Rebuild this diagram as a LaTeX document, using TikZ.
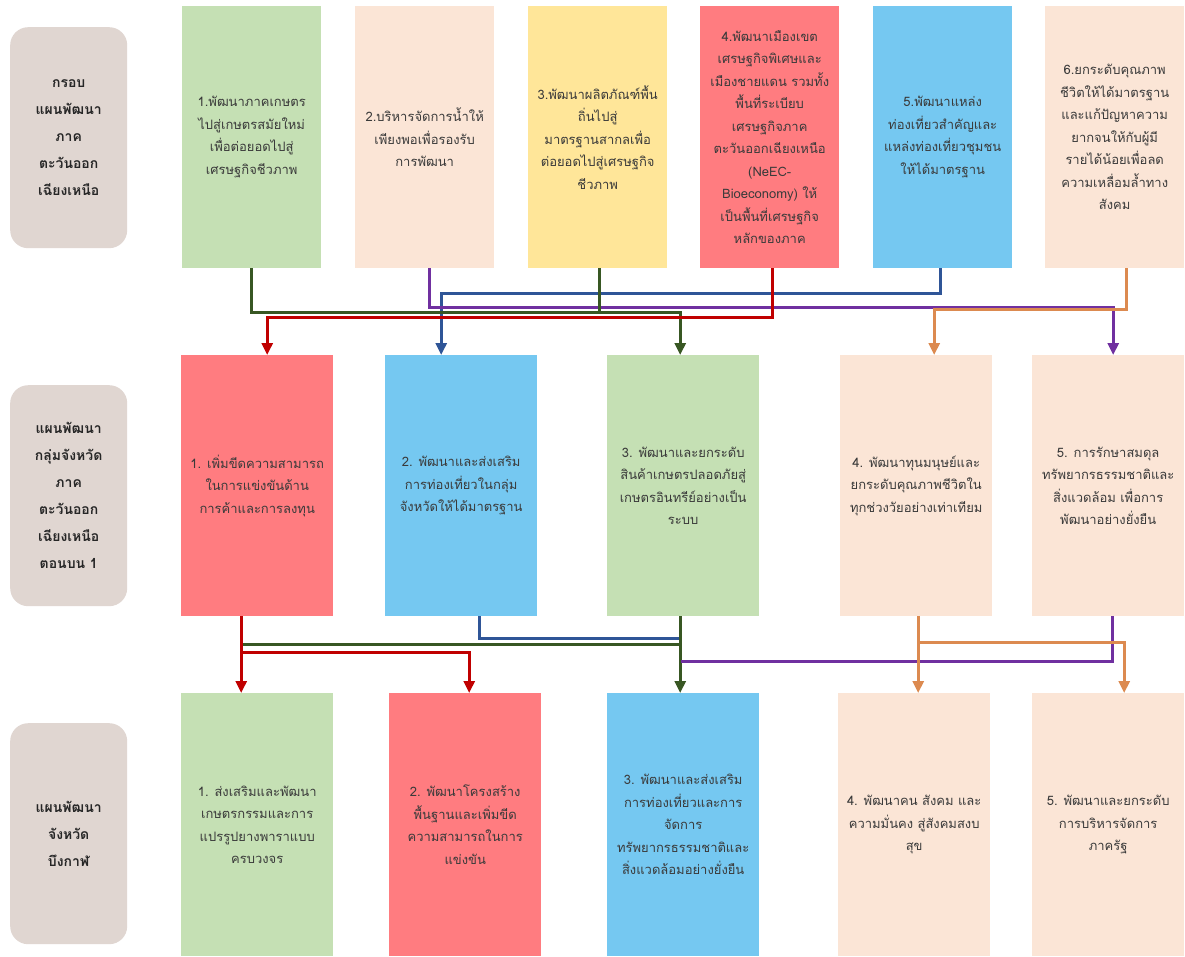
\documentclass[tikz,border=0pt]{standalone}
\usepackage{fontspec}
\newfontfamily\thaifont[Script=Thai]{Loma}
\usetikzlibrary{arrows.meta,calc}
\definecolor{cgreen}{HTML}{C5E0B4}
\definecolor{cpeach}{HTML}{FBE5D6}
\definecolor{cyellow}{HTML}{FFE699}
\definecolor{cred}{HTML}{FF7C80}
\definecolor{cblue}{HTML}{75C8F1}
\definecolor{clabel}{HTML}{E0D6D1}
\definecolor{txt}{HTML}{3A3A3A}
\definecolor{lgreen}{HTML}{385723}
\definecolor{lred}{HTML}{C00000}
\definecolor{lblue}{HTML}{2F5597}
\definecolor{lpurple}{HTML}{7030A0}
\definecolor{lorange}{HTML}{DC8A50}
\tikzset{
  box/.style={rectangle, anchor=north west, inner sep=0pt, align=center,
    font=\thaifont\fontsize{13}{22.5}\selectfont, text=txt},
  tb/.style={box, minimum width=139pt, minimum height=262pt},
  mb/.style={box, minimum width=152pt, minimum height=261pt},
  bb/.style={box, minimum width=152pt, minimum height=263pt},
  lab/.style={box, rounded corners=18pt, fill=clabel, minimum width=117pt,
    minimum height=221pt, font=\thaifont\bfseries\fontsize{14}{27}\selectfont, text=black!85},
  conn/.style={line width=2.8pt},
  arr/.style={conn, -{Triangle[length=12pt,width=11pt]}},
}
\begin{document}
\begin{tikzpicture}[x=1pt,y=-1pt]
\useasboundingbox (0,0) rectangle (1185,956);
\fill[white] (0,0) rectangle (1185,956);
% labels
\node[lab] (l1) at (10,27) {กรอบ\\แผนพัฒนา\\ภาค\\ตะวันออก\\เฉียงเหนือ};
\node[lab] (l2) at (10,385) {แผนพัฒนา\\กลุ่มจังหวัด\\ภาค\\ตะวันออก\\เฉียงเหนือ\\ตอนบน 1};
\node[lab] (l3) at (10,723) {แผนพัฒนา\\จังหวัด\\บึงกาฬ};
% top row
\node[tb, fill=cgreen] (t1) at (182,6) {1.พัฒนาภาคเกษตร\\ไปสู่เกษตรสมัยใหม่\\เพื่อต่อยอดไปสู่\\เศรษฐกิจชีวภาพ};
\node[tb, fill=cpeach] (t2) at (355,6) {2.บริหารจัดการน้ำให้\\เพียงพอเพื่อรองรับ\\การพัฒนา};
\node[tb, fill=cyellow] (t3) at (528,6) {3.พัฒนาผลิตภัณฑ์พื้น\\ถิ่นไปสู่\\มาตรฐานสากลเพื่อ\\ต่อยอดไปสู่เศรษฐกิจ\\ชีวภาพ};
\node[tb, fill=cred] (t4) at (700,6) {4.พัฒนาเมืองเขต\\เศรษฐกิจพิเศษและ\\เมืองชายแดน รวมทั้ง\\พื้นที่ระเบียบ\\เศรษฐกิจภาค\\ตะวันออกเฉียงเหนือ\\(NeEC-\\Bioeconomy) ให้\\เป็นพื้นที่เศรษฐกิจ\\หลักของภาค};
\node[tb, fill=cblue] (t5) at (873,6) {5.พัฒนาแหล่ง\\ท่องเที่ยวสำคัญและ\\แหล่งท่องเที่ยวชุมชน\\ให้ได้มาตรฐาน};
\node[tb, fill=cpeach] (t6) at (1045,6) {6.ยกระดับคุณภาพ\\ชีวิตให้ได้มาตรฐาน\\และแก้ปัญหาความ\\ยากจนให้กับผู้มี\\รายได้น้อยเพื่อลด\\ความเหลื่อมล้ำทาง\\สังคม};
% middle row
\node[mb, fill=cred] (m1) at (181,355) {1. เพิ่มขีดความสามารถ\\ในการแข่งขันด้าน\\การค้าและการลงทุน};
\node[mb, fill=cblue] (m2) at (385,355) {2. พัฒนาและส่งเสริม\\การท่องเที่ยวในกลุ่ม\\จังหวัดให้ได้มาตรฐาน};
\node[mb, fill=cgreen] (m3) at (607,355) {3. พัฒนาและยกระดับ\\สินค้าเกษตรปลอดภัยสู่\\เกษตรอินทรีย์อย่างเป็น\\ระบบ};
\node[mb, fill=cpeach] (m4) at (840,355) {4. พัฒนาทุนมนุษย์และ\\ยกระดับคุณภาพชีวิตใน\\ทุกช่วงวัยอย่างเท่าเทียม};
\node[mb, fill=cpeach] (m5) at (1032,355) {5. การรักษาสมดุล\\ทรัพยากรธรรมชาติและ\\สิ่งแวดล้อม เพื่อการ\\พัฒนาอย่างยั่งยืน};
% bottom row
\node[bb, fill=cgreen] (b1) at (181,693) {1. ส่งเสริมและพัฒนา\\เกษตรกรรมและการ\\แปรรูปยางพาราแบบ\\ครบวงจร};
\node[bb, fill=cred] (b2) at (389,693) {2. พัฒนาโครงสร้าง\\พื้นฐานและเพิ่มขีด\\ความสามารถในการ\\แข่งขัน};
\node[bb, fill=cblue] (b3) at (607,693) {3. พัฒนาและส่งเสริม\\การท่องเที่ยวและการ\\จัดการ\\ทรัพยากรธรรมชาติและ\\สิ่งแวดล้อมอย่างยั่งยืน};
\node[bb, fill=cpeach] (b4) at (838,693) {4. พัฒนาคน สังคม และ\\ความมั่นคง สู่สังคมสงบ\\สุข};
\node[bb, fill=cpeach] (b5) at (1032,693) {5. พัฒนาและยกระดับ\\การบริหารจัดการ\\ภาครัฐ};
% top -> middle connectors
\draw[arr, lblue] ($(t5.south)+(-2,0)$) -- ++(0,25) -| ($(m2.north)+(-20,0)$);
\draw[arr, lpurple] ($(t2.south)+(5,0)$) -- ++(0,39) -| ($(m5.north)+(5,0)$);
\draw[arr, lorange] ($(t6.south)+(12,0)$) -- ++(0,41) -| ($(m4.north)+(18,0)$);
\draw[arr, lgreen] (t1.south) -- ++(0,44) -| ($(m3.north)+(-3,0)$);
\draw[conn, lgreen] ($(t3.south)+(2,0)$) -- ++(0,44);
\draw[arr, lred] ($(t4.south)+(3,0)$) -- ++(0,49) -| ($(m1.north)+(10,0)$);
% middle -> bottom connectors
\draw[conn, lblue] ($(m2.south)+(18,0)$) |- ($(m3.south)+(-3,22)$);
\draw[conn, lgreen] ($(m1.south)+(-16,28)$) -- ($(m3.south)+(-3,28)$);
\draw[arr, lgreen] ($(m3.south)+(-3,0)$) -- ($(b3.north)+(-3,0)$);
\draw[conn, lpurple] ($(m5.south)+(4,0)$) |- ($(m3.south)+(-2,45)$);
\draw[arr, lred] ($(m1.south)+(-16,0)$) -- ($(b1.north)+(-16,0)$);
\draw[arr, lred] ($(m1.south)+(-16,36)$) -| ($(b2.north)+(4,0)$);
\draw[arr, lorange] ($(m4.south)+(2,0)$) -- ($(b4.north)+(4,0)$);
\draw[arr, lorange] ($(m4.south)+(2,26)$) -| ($(b5.north)+(16,0)$);
\end{tikzpicture}
\end{document}
